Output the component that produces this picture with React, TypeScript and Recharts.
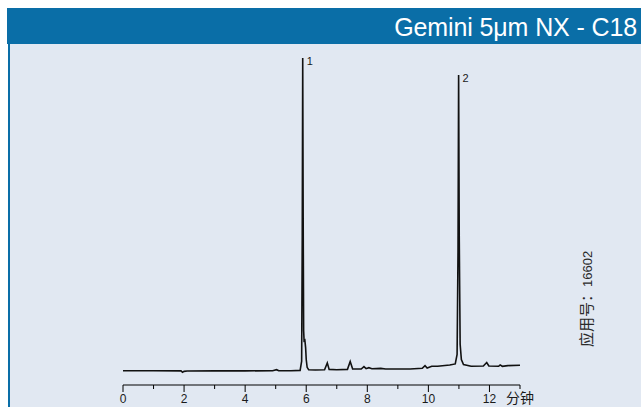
import React from "react";
import { LineChart, Line, XAxis, YAxis, ReferenceDot } from "recharts";

const times = [
  0, 1.0, 1.9, 1.95, 2.0, 2.1, 3.0, 4.0, 4.9, 5.03, 5.1, 5.5, 5.8, 5.85, 5.87, 5.885, 5.9, 5.915, 5.93, 5.955,
  5.98, 6.0, 6.03, 6.08, 6.3, 6.6, 6.69, 6.75, 7.0, 7.35, 7.44, 7.52, 7.8, 7.89, 7.96, 8.05, 8.15, 8.44, 8.6,
  9.0, 9.4, 9.8, 9.89, 9.96, 10.11, 10.3, 10.7, 10.88, 10.94, 10.97, 10.99, 11.01, 11.04, 11.08, 11.15, 11.4,
  11.8, 11.91, 11.98, 12.3, 12.35, 12.42, 12.6, 13.0,
];
const signal = [
  0.2, 0.2, 0.15, -0.25, 0.0, 0.1, 0.15, 0.15, 0.2, 0.5, 0.2, 0.2, 0.3, 3, 40, 92.2, 45, 12, 9, 9.2,
  7, 3.5, 1.2, 0.5, 0.4, 0.5, 2.5, 0.6, 0.5, 0.6, 2.9, 0.7, 0.7, 1.4, 0.8, 1.1, 0.8, 0.9, 0.7,
  0.7, 0.7, 0.9, 1.7, 1.0, 1.5, 1.5, 1.9, 2.2, 5, 35, 87.2, 40, 8, 3.5, 2, 1.5,
  1.6, 2.6, 1.6, 1.5, 1.9, 1.5, 1.7, 1.8,
];
const xTicks = [0, 1, 2, 3, 4, 5, 6, 7, 8, 9, 10, 11, 12, 13];
const peakTimes = [5.885, 10.99];
const peakHeights = [92.2, 87.2];
const peakNames = ["1", "2"];
const title = "Gemini 5μm NX - C18";
const unitLabel = "分钟";
const sideLabelCJK = "应用号：";
const sideLabelNum = "16602";

const data = times.map((t, i) => ({ t, v: signal[i] }));

const BLUE = "#0a6ea7";
const PANEL = "#e1e8f2";

const Tick = (props: any) => {
  const { x, y, payload } = props;
  const val = payload.value as number;
  const even = val % 2 === 0;
  const isLast = val === 13;
  return (
    <g>
      <line x1={x} x2={x} y1={y} y2={y + (even ? 7 : 4)} stroke="#000" strokeWidth={1} />
      {even && (
        <text x={x} y={y + 18} textAnchor="middle" fontSize={12} fill="#1a1a1a" fontFamily="Liberation Sans, Arial, sans-serif">
          {val}
        </text>
      )}
      {isLast && (
        <text x={x} y={y + 18} textAnchor="middle" fontSize={14} fill="#1a1a1a" fontFamily="Noto Sans CJK SC, sans-serif">
          {unitLabel}
        </text>
      )}
    </g>
  );
};

const PeakLabel = (name: string) => (props: any) => {
  const { cx, cy } = props;
  return (
    <text x={cx + 4} y={cy + 7} fontSize={11} fill="#1a1a1a" fontFamily="Liberation Sans, Arial, sans-serif">
      {name}
    </text>
  );
};

export default function App() {
  return (
    <div style={{ position: "absolute", left: 0, top: 0, width: 641, height: 407, background: "#fff", overflow: "hidden" }}>
      <div
        style={{
          position: "absolute",
          left: 7,
          top: 8,
          width: 634,
          height: 36,
          background: BLUE,
          color: "#fff",
          fontFamily: "Liberation Sans, Arial, sans-serif",
          fontSize: 25,
          fontWeight: 300,
          lineHeight: "38px",
          textAlign: "right",
          boxSizing: "border-box",
          paddingRight: 4,
          letterSpacing: -0.12,
        }}
      >
        {title}
      </div>
      <div
        style={{
          position: "absolute",
          left: 8,
          top: 44,
          width: 633,
          height: 363,
          background: PANEL,
          borderLeft: `2px solid ${BLUE}`,
          boxSizing: "border-box",
        }}
      />
      <div style={{ position: "absolute", left: 0, top: 0 }}>
        <LineChart width={641} height={407} data={data} margin={{ top: 45, left: 123, right: 121, bottom: 0 }}>
          <XAxis
            dataKey="t"
            type="number"
            domain={[0, 13]}
            ticks={xTicks}
            interval={0}
            height={22}
            tickSize={0}
            tickMargin={0}
            tickLine={false}
            axisLine={{ stroke: "#000", strokeWidth: 1 }}
            tick={<Tick />}
            allowDataOverflow
          />
          <YAxis hide width={0} type="number" domain={[-4, 96]} allowDataOverflow />
          <Line
            type="linear"
            dataKey="v"
            stroke="#111"
            strokeWidth={1.6}
            dot={false}
            isAnimationActive={false}
          />
          {peakTimes.map((pt, i) => (
            <ReferenceDot key={i} x={pt} y={peakHeights[i]} r={0} shape={PeakLabel(peakNames[i])} />
          ))}
        </LineChart>
      </div>
      <svg style={{ position: "absolute", left: 0, top: 0 }} width={641} height={407}>
        <text
          transform="translate(592 347) rotate(-90)"
          fill="#2a2a2a"
          fontFamily="Noto Sans CJK SC, sans-serif"
        >
          <tspan fontSize={15}>{sideLabelCJK}</tspan>
          <tspan fontSize={13} fontFamily="Liberation Sans, Arial, sans-serif">{sideLabelNum}</tspan>
        </text>
      </svg>
    </div>
  );
}
